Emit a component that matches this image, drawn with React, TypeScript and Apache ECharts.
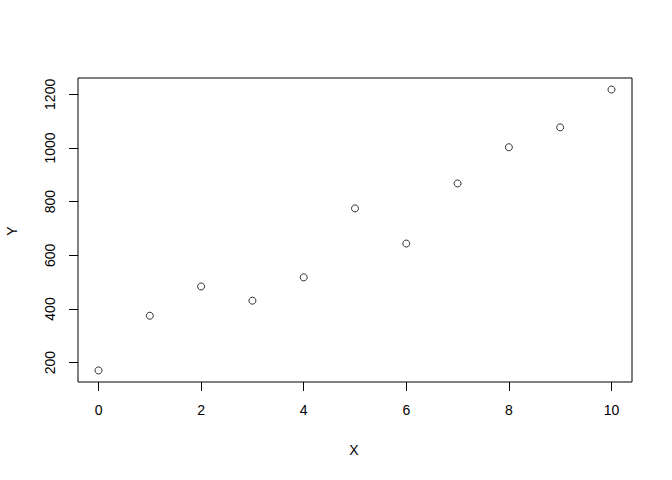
import React, { useEffect, useRef } from "react";
import * as echarts from "echarts";

const xValues = [0, 1, 2, 3, 4, 5, 6, 7, 8, 9, 10];
const yValues = [171, 375, 484, 431, 518, 775, 644, 868, 1003, 1077, 1218];
const xTicks = [0, 2, 4, 6, 8, 10];
const yTicks = [200, 400, 600, 800, 1000, 1200];
const xTitle = "X";
const yTitle = "Y";

const FONT = "'Liberation Sans', Arial, sans-serif";

export default function App() {
  const ref = useRef<HTMLDivElement>(null);
  useEffect(() => {
    if (!ref.current) return;
    const chart = echarts.init(ref.current, null, { renderer: "svg" });
    chart.setOption({
      animation: false,
      backgroundColor: "#ffffff",
      grid: {
        left: 78,
        top: 78,
        right: 40,
        bottom: 98,
        show: true,
        borderColor: "#000",
        borderWidth: 1,
        backgroundColor: "transparent",
      },
      xAxis: {
        type: "value",
        min: -0.4,
        max: 10.4,
        splitLine: { show: false },
        axisLine: { show: false, onZero: false },
        axisTick: {
          show: true,
          inside: false,
          length: 9,
          customValues: xTicks,
          lineStyle: { color: "#000", width: 1 },
        },
        axisLabel: {
          customValues: xTicks,
          color: "#000",
          fontFamily: FONT,
          fontSize: 14,
          margin: 21,
          formatter: (v: number) => String(v),
        },
      },
      yAxis: {
        type: "value",
        min: 128,
        max: 1261,
        splitLine: { show: false },
        axisLine: { show: false, onZero: false },
        axisTick: {
          show: true,
          inside: false,
          length: 9,
          customValues: yTicks,
          lineStyle: { color: "#000", width: 1 },
        },
        axisLabel: {
          customValues: yTicks,
          rotate: 90,
          color: "#000",
          fontFamily: FONT,
          fontSize: 14,
          margin: 21,
          formatter: (v: number) => String(v),
        },
      },
      graphic: [
        {
          type: "text",
          x: 354,
          y: 450,
          style: {
            text: xTitle,
            fontFamily: FONT,
            fontSize: 14,
            fill: "#000",
            align: "center",
            verticalAlign: "middle",
          },
        },
        {
          type: "text",
          x: 12,
          y: 231,
          rotation: Math.PI / 2,
          style: {
            text: yTitle,
            fontFamily: FONT,
            fontSize: 14,
            fill: "#000",
            align: "center",
            verticalAlign: "middle",
          },
        },
      ],
      series: [
        {
          type: "scatter",
          data: xValues.map((x, i) => [x, yValues[i]]),
          symbol: "circle",
          symbolSize: 7,
          itemStyle: { color: "rgba(255,255,255,0)", borderColor: "#000", borderWidth: 1 },
          emphasis: { disabled: true },
        },
      ],
    });
    return () => chart.dispose();
  }, []);
  return (
    <div
      ref={ref}
      style={{ position: "fixed", left: 0, top: 0, width: 672, height: 480, background: "#fff" }}
    />
  );
}
